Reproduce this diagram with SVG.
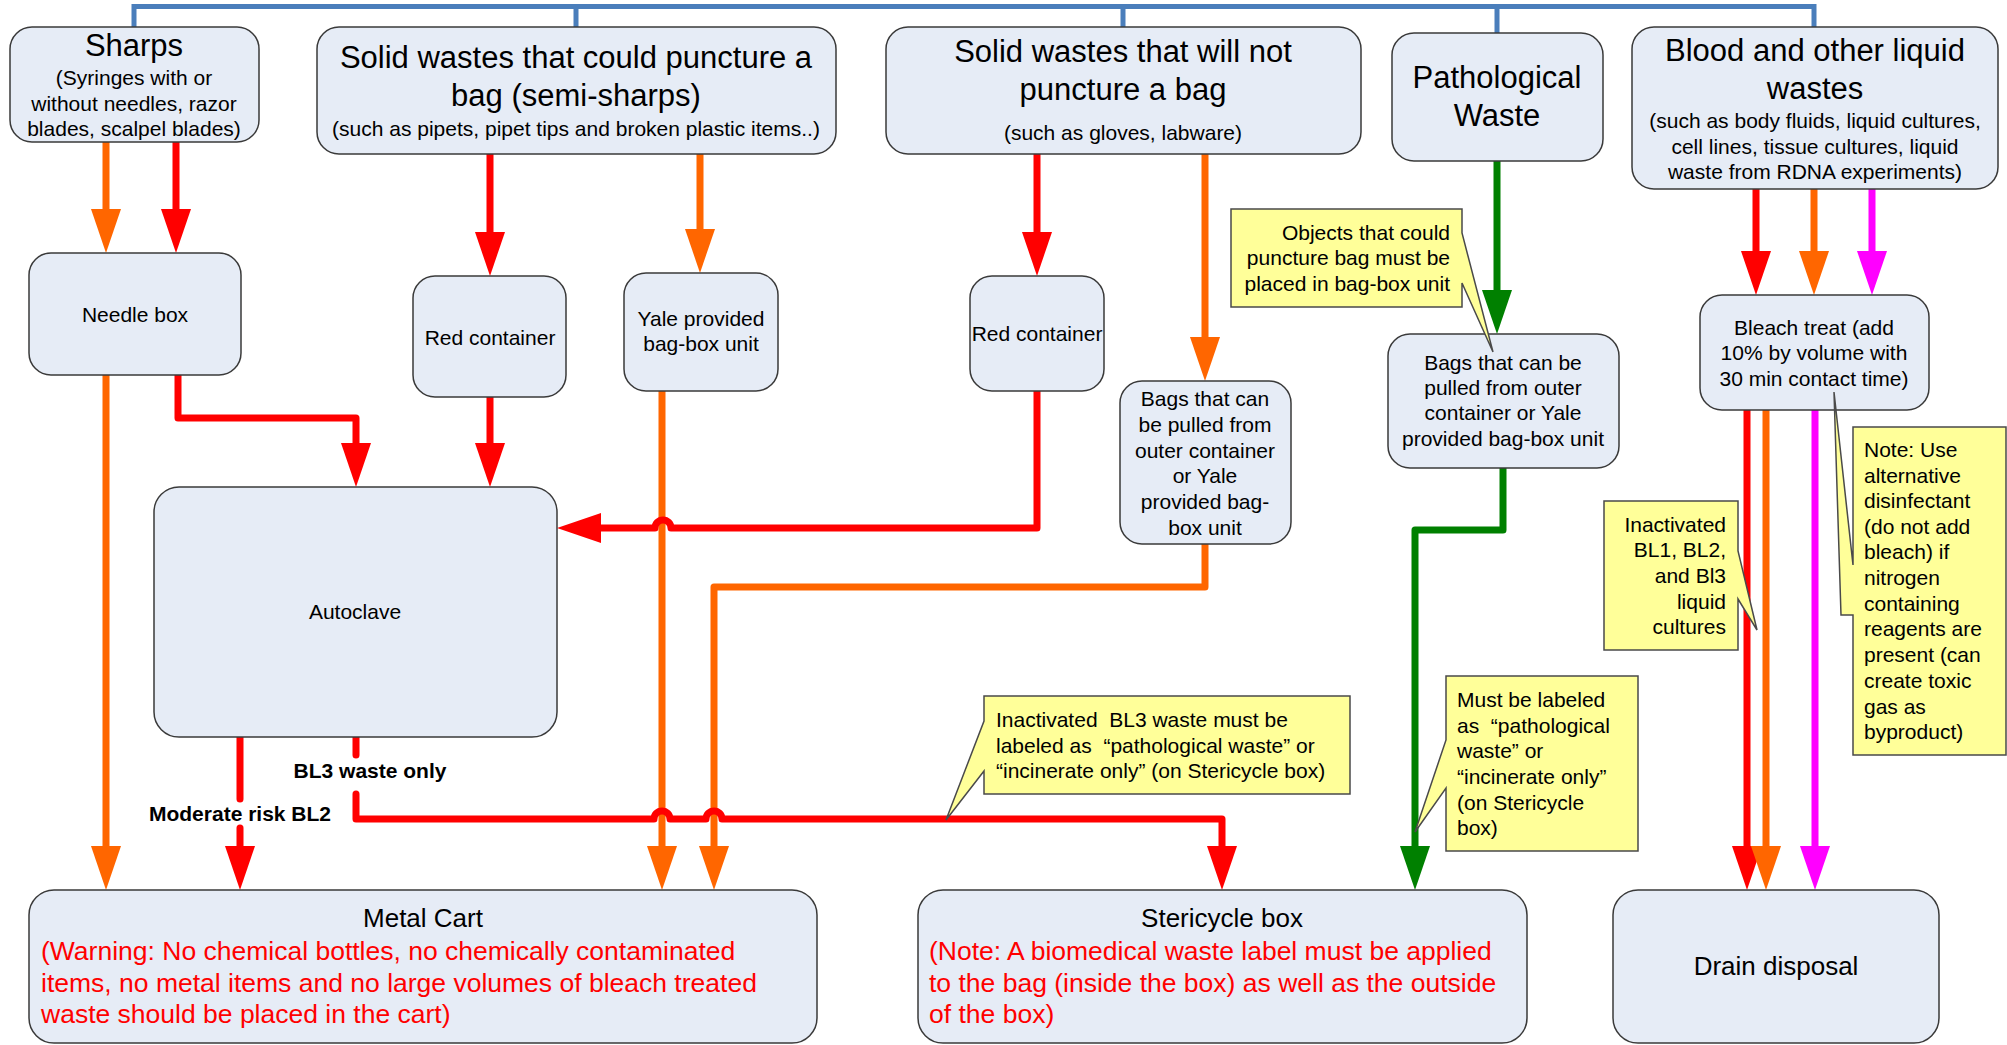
<svg xmlns="http://www.w3.org/2000/svg" width="2007" height="1045" viewBox="0 0 2007 1045">
<style>
.box{fill:#E6ECF6;stroke:#3a3a3a;stroke-width:1.5}
.note{fill:#FFFF99;stroke:#4a4a4a;stroke-width:1.5;stroke-linejoin:miter}
text{font-family:"Liberation Sans",Arial,sans-serif;fill:#000}
.big{font-size:31px;text-anchor:middle}
.sm{font-size:21px;text-anchor:middle}
.ttl{font-size:26px;text-anchor:middle}
.warn{font-size:26.5px;fill:#FF0000}
.nt{font-size:21px}
.lbl{font-size:21px;font-weight:bold;text-anchor:middle}
.c{fill:none;stroke-width:7;stroke-linecap:round;stroke-linejoin:round}
.r{stroke:#FF0000}.o{stroke:#FF6600}.g{stroke:#008000}.m{stroke:#FF00FF}
.blue{fill:none;stroke:#4A7EBB;stroke-width:5}
</style>
<defs>
<marker id="ar" markerUnits="userSpaceOnUse" markerWidth="44" markerHeight="30" refX="24" refY="15" orient="auto" overflow="visible"><path d="M0,0 L44,15 L0,30 z" fill="#FF0000"/></marker>
<marker id="ao" markerUnits="userSpaceOnUse" markerWidth="44" markerHeight="30" refX="24" refY="15" orient="auto" overflow="visible"><path d="M0,0 L44,15 L0,30 z" fill="#FF6600"/></marker>
<marker id="ag" markerUnits="userSpaceOnUse" markerWidth="44" markerHeight="30" refX="24" refY="15" orient="auto" overflow="visible"><path d="M0,0 L44,15 L0,30 z" fill="#008000"/></marker>
<marker id="am" markerUnits="userSpaceOnUse" markerWidth="44" markerHeight="30" refX="24" refY="15" orient="auto" overflow="visible"><path d="M0,0 L44,15 L0,30 z" fill="#FF00FF"/></marker>
</defs>

<g id="connectors">
<path class="blue" d="M134,28 V6.5 H1814 V28 M576,6.5 V28 M1123,6.5 V28 M1497,6.5 V34"/>
<path class="c o" d="M106,142 V233" marker-end="url(#ao)"/>
<path class="c r" d="M176,142 V233" marker-end="url(#ar)"/>
<path class="c o" d="M106,375 V870" marker-end="url(#ao)"/>
<path class="c r" d="M178,375 V418 H356 V467" marker-end="url(#ar)"/>
<path class="c r" d="M490,397 V467" marker-end="url(#ar)"/>
<path class="c r" d="M490,154 V256" marker-end="url(#ar)"/>
<path class="c o" d="M700,154 V253" marker-end="url(#ao)"/>
<path class="c o" d="M662,391 V870" marker-end="url(#ao)"/>
<path class="c r" d="M1037,154 V256" marker-end="url(#ar)"/>
<path class="c r" d="M1037,391 V528 H671 A8,8 0 0 0 655,528 H577" marker-end="url(#ar)"/>
<path class="c o" d="M1205,154 V361" marker-end="url(#ao)"/>
<path class="c o" d="M1205,544 V587 H714 V870" marker-end="url(#ao)"/>
<path class="c r" d="M240,737 V799"/>
<path class="c r" d="M240,828 V870" marker-end="url(#ar)"/>
<path class="c r" d="M356,737 V755"/>
<path class="c r" d="M356,794 V819 H654 A8,8 0 0 1 670,819 H706 A8,8 0 0 1 722,819 H1222 V870" marker-end="url(#ar)"/>
<path class="c g" d="M1497,161 V314" marker-end="url(#ag)"/>
<path class="c g" d="M1503,468 V530 H1415 V870" marker-end="url(#ag)"/>
<path class="c r" d="M1756,189 V275" marker-end="url(#ar)"/>
<path class="c o" d="M1814,189 V275" marker-end="url(#ao)"/>
<path class="c m" d="M1872,189 V275" marker-end="url(#am)"/>
<path class="c r" d="M1747,410 V870" marker-end="url(#ar)"/>
<path class="c o" d="M1766,410 V870" marker-end="url(#ao)"/>
<path class="c m" d="M1815,410 V870" marker-end="url(#am)"/>
<text class="lbl" x="240" y="820.5">Moderate risk BL2</text>
<text class="lbl" x="370" y="777.5">BL3 waste only</text>
</g>

<g id="sharps">
<rect class="box" x="10" y="27" width="249" height="115" rx="22"/>
<text class="big" x="134" y="56">Sharps</text>
<text class="sm" x="134" y="84.5">(Syringes with or</text>
<text class="sm" x="134" y="110.5">without needles, razor</text>
<text class="sm" x="134" y="135.5">blades, scalpel blades)</text>
</g>

<g id="semi-sharps">
<rect class="box" x="317" y="27" width="519" height="127" rx="22"/>
<text class="big" x="576" y="68">Solid wastes that could puncture a</text>
<text class="big" x="576" y="106">bag (semi-sharps)</text>
<text class="sm" x="576" y="135.5">(such as pipets, pipet tips and broken plastic items..)</text>
</g>

<g id="non-puncture">
<rect class="box" x="886" y="27" width="475" height="127" rx="22"/>
<text class="big" x="1123" y="62">Solid wastes that will not</text>
<text class="big" x="1123" y="100">puncture a bag</text>
<text class="sm" x="1123" y="139.5">(such as gloves, labware)</text>
</g>

<g id="pathological">
<rect class="box" x="1392" y="33" width="211" height="128" rx="22"/>
<text class="big" x="1497" y="88">Pathological</text>
<text class="big" x="1497" y="126">Waste</text>
</g>

<g id="liquid">
<rect class="box" x="1632" y="27" width="366" height="162" rx="22"/>
<text class="big" x="1815" y="61">Blood and other liquid</text>
<text class="big" x="1815" y="99">wastes</text>
<text class="sm" x="1815" y="127.5">(such as body fluids, liquid cultures,</text>
<text class="sm" x="1815" y="153.5">cell lines, tissue cultures, liquid</text>
<text class="sm" x="1815" y="178.5">waste from RDNA experiments)</text>
</g>

<g id="needle-box">
<rect class="box" x="29" y="253" width="212" height="122" rx="22"/>
<text class="sm" x="135" y="321.5">Needle box</text>
</g>

<g id="red-container-1">
<rect class="box" x="413" y="276" width="153" height="121" rx="22"/>
<text class="sm" x="490" y="344.5">Red container</text>
</g>

<g id="yale-bag-box">
<rect class="box" x="624" y="273" width="154" height="118" rx="22"/>
<text class="sm" x="701" y="325.5">Yale provided</text>
<text class="sm" x="701" y="350.5">bag-box unit</text>
</g>

<g id="red-container-2">
<rect class="box" x="970" y="276" width="134" height="115" rx="22"/>
<text class="sm" x="1037" y="340.5">Red container</text>
</g>

<g id="bags-middle">
<rect class="box" x="1120" y="381" width="171" height="163" rx="22"/>
<text class="sm" x="1205" y="405.5">Bags that can</text>
<text class="sm" x="1205" y="431.5">be pulled from</text>
<text class="sm" x="1205" y="457.5">outer container</text>
<text class="sm" x="1205" y="482.5">or Yale</text>
<text class="sm" x="1205" y="508.5">provided bag-</text>
<text class="sm" x="1205" y="534.5">box unit</text>
</g>

<g id="bags-right">
<rect class="box" x="1388" y="334" width="231" height="134" rx="22"/>
<text class="sm" x="1503" y="369.5">Bags that can be</text>
<text class="sm" x="1503" y="394.5">pulled from outer</text>
<text class="sm" x="1503" y="419.5">container or Yale</text>
<text class="sm" x="1503" y="445.5">provided bag-box unit</text>
</g>

<g id="bleach">
<rect class="box" x="1700" y="295" width="229" height="115" rx="22"/>
<text class="sm" x="1814" y="334.5">Bleach treat (add</text>
<text class="sm" x="1814" y="359.5">10% by volume with</text>
<text class="sm" x="1814" y="385.5">30 min contact time)</text>
</g>

<g id="autoclave">
<rect class="box" x="154" y="487" width="403" height="250" rx="25"/>
<text class="sm" x="355" y="618.5">Autoclave</text>
</g>

<g id="metal-cart">
<rect class="box" x="29" y="890" width="788" height="153" rx="25"/>
<text class="ttl" x="423" y="927">Metal Cart</text>
<text class="warn" x="41" y="959.5">(Warning: No chemical bottles, no chemically contaminated</text>
<text class="warn" x="41" y="991.5">items, no metal items and no large volumes of bleach treated</text>
<text class="warn" x="41" y="1023">waste should be placed in the cart)</text>
</g>

<g id="stericycle">
<rect class="box" x="918" y="890" width="609" height="153" rx="25"/>
<text class="ttl" x="1222" y="927">Stericycle box</text>
<text class="warn" x="929" y="959.5">(Note: A biomedical waste label must be applied</text>
<text class="warn" x="929" y="991.5">to the bag (inside the box) as well as the outside</text>
<text class="warn" x="929" y="1023">of the box)</text>
</g>

<g id="drain">
<rect class="box" x="1613" y="890" width="326" height="153" rx="25"/>
<text class="ttl" x="1776" y="975">Drain disposal</text>
</g>

<g id="note-objects">
<path class="note" d="M1231,209 H1462 V233 L1493,352 L1462,283 V307 H1231 Z"/>
<text class="nt" text-anchor="end" x="1450" y="239.5">Objects that could</text>
<text class="nt" text-anchor="end" x="1450" y="264.5">puncture bag must be</text>
<text class="nt" text-anchor="end" x="1450" y="290.5">placed in bag-box unit</text>
</g>

<g id="note-bl3">
<path class="note" d="M984,696 H1350 V794 H984 V771 L946,820 L984,721 Z"/>
<text class="nt" x="996" y="726.5">Inactivated&#160; BL3 waste must be</text>
<text class="nt" x="996" y="752.5">labeled as&#160; “pathological waste” or</text>
<text class="nt" x="996" y="777.5">“incinerate only” (on Stericycle box)</text>
</g>

<g id="note-pathological">
<path class="note" d="M1446,676 H1638 V851 H1446 V788 L1415,832 L1446,740 Z"/>
<text class="nt" x="1457" y="706.5">Must be labeled</text>
<text class="nt" x="1457" y="732.5">as&#160; “pathological</text>
<text class="nt" x="1457" y="757.5">waste” or</text>
<text class="nt" x="1457" y="783.5">“incinerate only”</text>
<text class="nt" x="1457" y="809.5">(on Stericycle</text>
<text class="nt" x="1457" y="834.5">box)</text>
</g>

<g id="note-liquid">
<path class="note" d="M1604,501 H1738 V551 L1757,630 L1738,599 V650 H1604 Z"/>
<text class="nt" text-anchor="end" x="1726" y="531.5">Inactivated</text>
<text class="nt" text-anchor="end" x="1726" y="556.5">BL1, BL2,</text>
<text class="nt" text-anchor="end" x="1726" y="582.5">and Bl3</text>
<text class="nt" text-anchor="end" x="1726" y="608.5">liquid</text>
<text class="nt" text-anchor="end" x="1726" y="633.5">cultures</text>
</g>

<g id="note-disinfectant">
<path class="note" d="M1853,427 H2006 V755 H1853 V615 H1841 L1834,392 L1853,565 Z"/>
<text class="nt" x="1864" y="456.5">Note: Use</text>
<text class="nt" x="1864" y="482.5">alternative</text>
<text class="nt" x="1864" y="507.5">disinfectant</text>
<text class="nt" x="1864" y="533.5">(do not add</text>
<text class="nt" x="1864" y="558.5">bleach) if</text>
<text class="nt" x="1864" y="584.5">nitrogen</text>
<text class="nt" x="1864" y="610.5">containing</text>
<text class="nt" x="1864" y="635.5">reagents are</text>
<text class="nt" x="1864" y="661.5">present (can</text>
<text class="nt" x="1864" y="687.5">create toxic</text>
<text class="nt" x="1864" y="713.5">gas as</text>
<text class="nt" x="1864" y="738.5">byproduct)</text>
</g>
</svg>
